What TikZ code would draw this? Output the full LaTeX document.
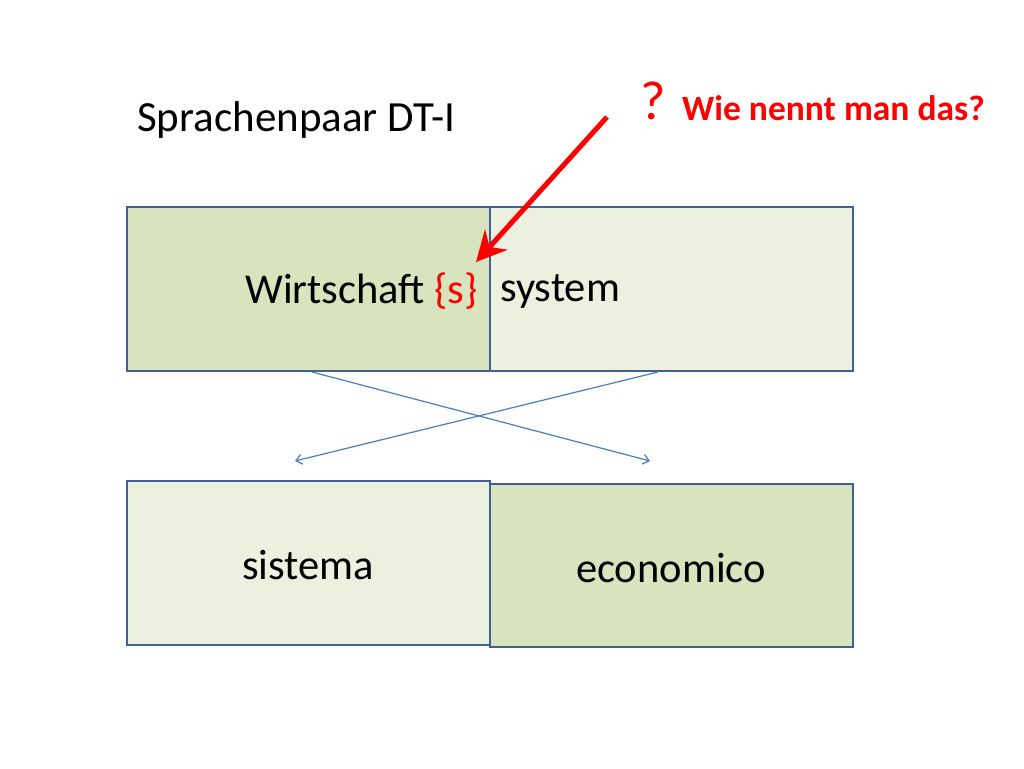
\documentclass[tikz,border=0pt]{standalone}
\usetikzlibrary{arrows.meta}
\usepackage{fontspec}
\setmainfont{Carlito}
\definecolor{dg}{HTML}{D7E4BD}
\definecolor{lg}{HTML}{EBF1DE}
\definecolor{bd}{HTML}{3F6196}
\definecolor{ln}{HTML}{4A7EBB}
\begin{document}
\begin{tikzpicture}[x=1pt,y=-1pt,
 box/.style={draw=bd,line width=2pt},
 txt/.style={inner sep=0pt,font=\fontsize{42.5}{48}\selectfont}]
\useasboundingbox (0,0) rectangle (1024,768);
\filldraw[box,fill=lg] (127,481) rectangle (490,645);
\filldraw[box,fill=dg] (490,484) rectangle (853,647);
\filldraw[box,fill=lg] (490,207) rectangle (853,371);
\filldraw[box,fill=dg] (127,207) rectangle (490,371);
\node[txt,anchor=west] (w) at (245,291) {Wirtschaft \textcolor{red}{\{s\}}};
\node[txt,anchor=west] (sy) at (500,291) {system};
\node[txt] (si) at (308,565) {sistema};
\node[txt] (ec) at (671,568) {economico};
\node[inner sep=0pt,anchor=west,font=\fontsize{43}{48}\selectfont] (sp) at (137,120) {Sprachenpaar DT-I};
\node[inner sep=0pt,anchor=west,text=red,font=\fontsize{55}{60}\selectfont] (q) at (640,101) {?};
\node[inner sep=0pt,anchor=west,text=red,font=\fontsize{35.5}{40}\selectfont\bfseries] (wie) at (682,108) {Wie nennt man das?};
\coordinate (a1) at (607,117); \coordinate (a2) at (476,262);
\draw[red,line width=5pt,-{Stealth[length=30pt,width=30pt]}] (a1) -- (a2);
\coordinate (l1) at (312,372); \coordinate (l2) at (650,461);
\coordinate (r1) at (658,372); \coordinate (r2) at (295,461);
\draw[ln,line width=1.2pt,-{Straight Barb[length=6pt,width=10pt]}] (l1) -- (l2);
\draw[ln,line width=1.2pt,-{Straight Barb[length=6pt,width=10pt]}] (r1) -- (r2);
\end{tikzpicture}
\end{document}
